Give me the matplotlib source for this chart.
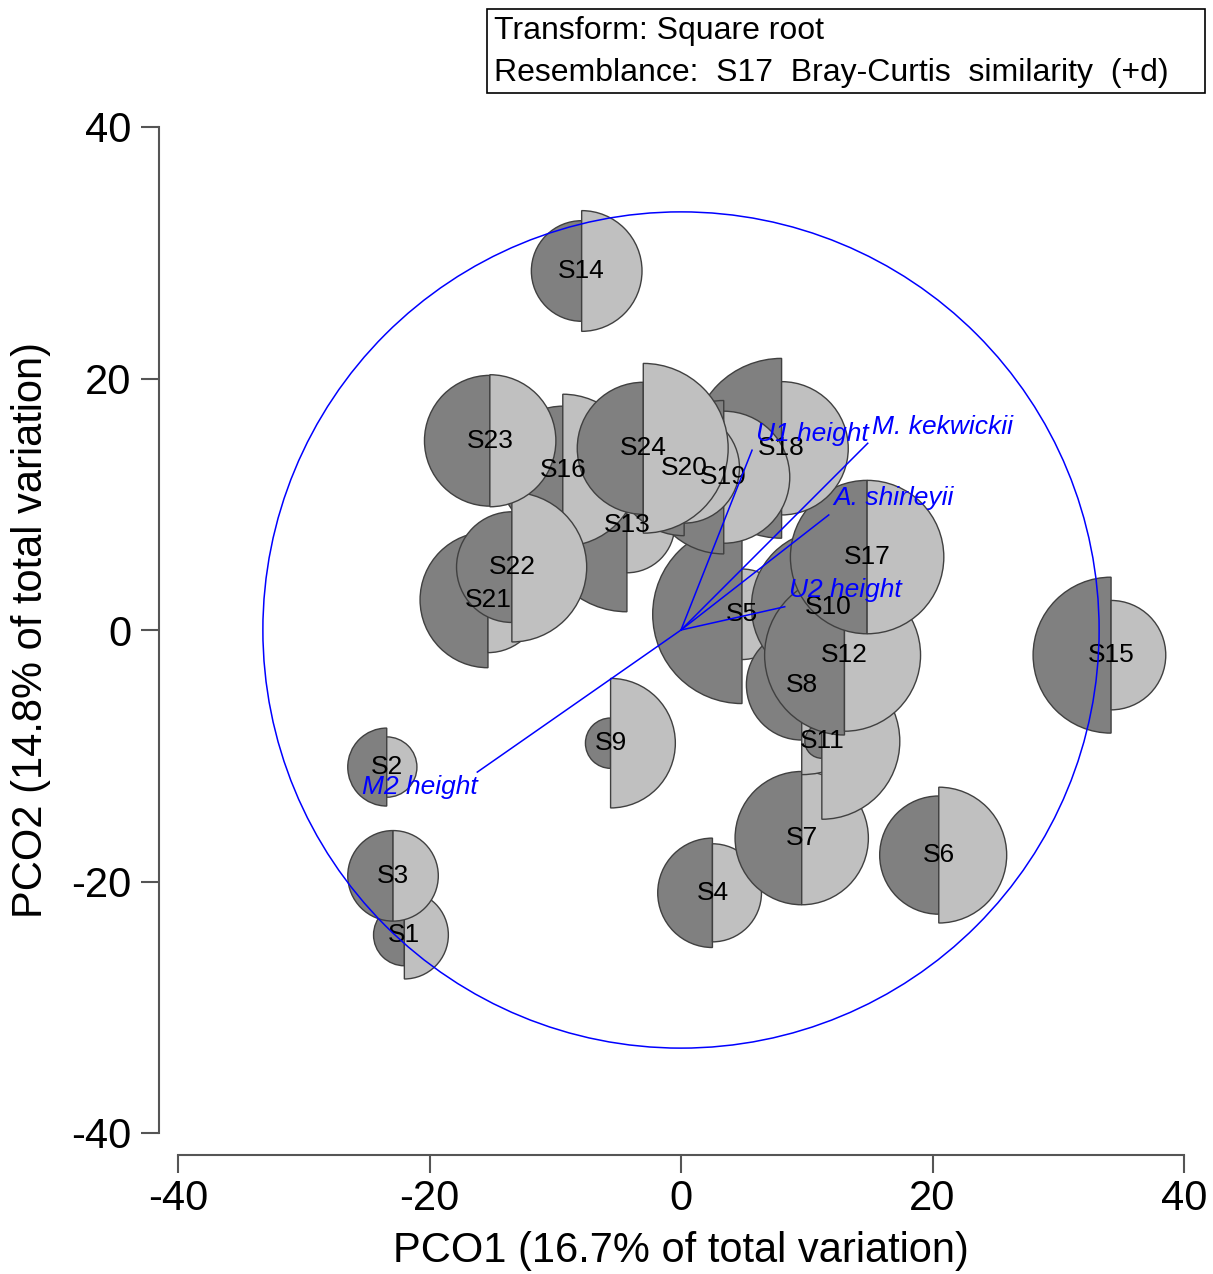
import matplotlib
matplotlib.use("Agg")
import matplotlib.pyplot as plt
from matplotlib.patches import Wedge, Circle, Rectangle

plt.rcParams['font.family'] = ['Liberation Sans', 'DejaVu Sans']
plt.rcParams['axes.unicode_minus'] = False

# sample scores on the first two PCO axes
samples = ["S1", "S2", "S3", "S4", "S5", "S6", "S7", "S8", "S9", "S10", "S11", "S12",
           "S13", "S14", "S15", "S16", "S17", "S18", "S19", "S20", "S21", "S22", "S23", "S24"]
pco1 = [-22.0, -23.4, -22.9, 2.5, 4.85, 20.5, 9.6, 9.6, -5.6, 11.7, 11.2, 13.0,
        -4.3, -7.9, 34.2, -9.4, 14.8, 8.0, 3.4, 0.25, -15.35, -13.45, -15.2, -3.0]
pco2 = [-24.25, -10.9, -19.55, -20.9, 1.25, -17.9, -16.55, -4.35, -9.0, 1.85, -8.85, -2.0,
        8.35, 28.55, -2.0, 12.7, 5.8, 14.45, 12.15, 12.9, 2.4, 5.0, 15.05, 14.45]
# bubble radii: left (dark) half and right (light) half
left_size = [2.45, 3.1, 3.6, 4.35, 7.1, 4.7, 5.3, 4.4, 2.0, 6.1, 1.35, 6.35,
             6.9, 4.0, 6.2, 5.1, 6.1, 7.15, 6.1, 5.4, 5.4, 4.4, 5.2, 5.25]
right_size = [3.5, 2.4, 3.6, 3.9, 3.6, 5.4, 5.3, 7.15, 5.15, 4.0, 6.2, 6.05,
              3.8, 4.8, 4.35, 6.05, 6.1, 5.3, 5.25, 4.4, 4.2, 5.95, 5.25, 6.75]

# vector overlay
vec_names = ["M2 height", "U1 height", "M. kekwickii", "A. shirleyii", "U2 height"]
vec_x = [-16.2, 5.65, 14.85, 11.75, 8.25]
vec_y = [-11.3, 14.3, 14.85, 9.15, 1.85]
circle_radius = 33.25

DARK = "#808080"
LIGHT = "#c0c0c0"
EDGE = "#404040"
AXC = "#555555"

fig = plt.figure(figsize=(12.13, 12.74), dpi=100)
ax = fig.add_axes([178 / 1213, 141 / 1274, 1006 / 1213, 1006 / 1274])
ax.set_xlim(-40, 40)
ax.set_ylim(-40, 40)

# split bubbles, drawn in sample order
for i in range(len(samples)):
    z = 2 + i * 0.01
    ax.add_patch(Wedge((pco1[i], pco2[i]), left_size[i], 90, 270,
                       facecolor=DARK, edgecolor=EDGE, lw=1.0, zorder=z))
    ax.add_patch(Wedge((pco1[i], pco2[i]), right_size[i], -90, 90,
                       facecolor=LIGHT, edgecolor=EDGE, lw=1.0, zorder=z))

for name, x, y in zip(samples, pco1, pco2):
    ax.text(x, y, name, ha="center", va="center", fontsize=19, color="black", zorder=5)

# correlation circle and vectors
ax.add_patch(Circle((0, 0), circle_radius, fill=False, edgecolor="blue", lw=1.1, zorder=6))
for name, x, y in zip(vec_names, vec_x, vec_y):
    ax.plot([0, x], [0, y], color="blue", lw=1.1, zorder=6)
    if x < 0:
        ax.annotate(name, (x, y), xytext=(0, -11), textcoords="offset points",
                    ha="right", va="center", fontsize=19, style="italic",
                    color="blue", zorder=7)
    else:
        ax.annotate(name, (x, y), xytext=(3, 12), textcoords="offset points",
                    ha="left", va="center", fontsize=19, style="italic",
                    color="blue", zorder=7)

# detached axes
for side in ["top", "right"]:
    ax.spines[side].set_visible(False)
ax.spines["left"].set_position(("outward", 13.7))
ax.spines["bottom"].set_position(("outward", 15.8))
for side in ["left", "bottom"]:
    ax.spines[side].set_bounds(-40, 40)
    ax.spines[side].set_color(AXC)
    ax.spines[side].set_linewidth(1.5)
ax.set_xticks([-40, -20, 0, 20, 40])
ax.set_yticks([-40, -20, 0, 20, 40])
ax.tick_params(axis="both", labelsize=30, length=13, width=1.5, color=AXC, direction="out")
ax.tick_params(axis="y", pad=7)
ax.tick_params(axis="x", pad=4)

fig.text(681 / 1213, 1 - 1251 / 1274, "PCO1 (16.7% of total variation)",
         ha="center", va="center", fontsize=30)
fig.text(31 / 1213, 1 - 630 / 1274, "PCO2 (14.8% of total variation)",
         ha="center", va="center", fontsize=30, rotation=90)

# transform / resemblance box
fig.patches.append(Rectangle((487 / 1213, 1 - 93 / 1274), 718 / 1213, 84 / 1274,
                             transform=fig.transFigure, fill=False,
                             edgecolor="black", lw=1.2))
fig.text(494 / 1213, 1 - 31 / 1274, "Transform: Square root",
         ha="left", va="center", fontsize=23)
fig.text(494 / 1213, 1 - 73 / 1274, "Resemblance:  S17  Bray-Curtis  similarity  (+d)",
         ha="left", va="center", fontsize=23)

fig.savefig("out.png", dpi=100)
